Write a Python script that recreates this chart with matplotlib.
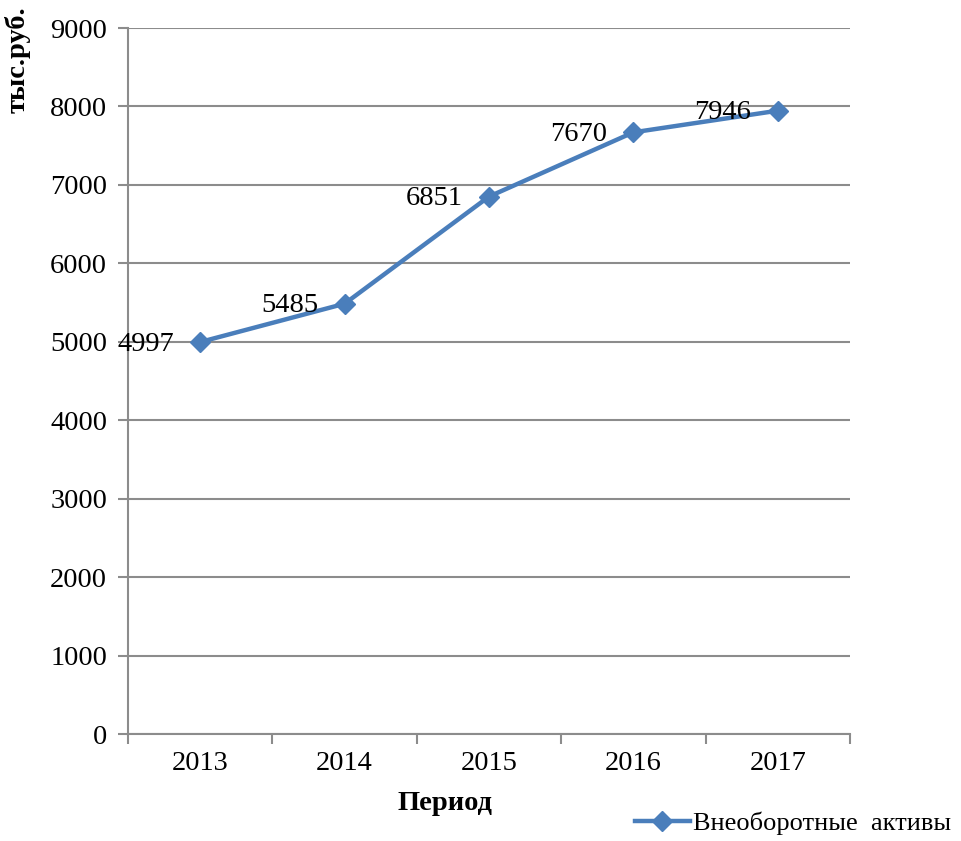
import matplotlib
matplotlib.use("Agg")
import matplotlib.pyplot as plt
from matplotlib.ticker import FixedLocator

years = ["2013", "2014", "2015", "2016", "2017"]
values = [4997, 5485, 6851, 7670, 7946]
series_name = "Внеоборотные  активы"
y_ticks = [0, 1000, 2000, 3000, 4000, 5000, 6000, 7000, 8000, 9000]

plt.rcParams['font.family'] = ['Liberation Serif', 'DejaVu Serif']
FS = 20.5

fig = plt.figure(figsize=(9.61, 8.41), dpi=100)
ax = fig.add_axes([128/961, 107/841, 722/961, 706/841])

grid_c = '#8c8c8c'
line_c = '#4a7ebb'

x = list(range(len(years)))
ax.plot(x, values, color=line_c, lw=3.2, marker='D', markersize=10,
        markerfacecolor=line_c, markeredgecolor=line_c, label=series_name, zorder=3)

for xi, v in zip(x, values):
    ax.annotate(str(v), (xi, v), xytext=(-19, -1.5), textcoords='offset points',
                ha='right', va='center', fontsize=FS, color='black', zorder=4)

ax.set_xlim(-0.5, len(years) - 0.5)
ax.set_ylim(0, 9000)
ax.set_yticks(y_ticks)
ax.set_yticklabels([str(t) for t in y_ticks], fontsize=FS)
ax.set_xticks(x)
ax.set_xticklabels(years, fontsize=FS)
ax.tick_params(axis='x', which='major', length=0, pad=12)
ax.xaxis.set_minor_locator(FixedLocator([i - 0.5 for i in range(len(years) + 1)]))
ax.tick_params(axis='x', which='minor', length=7, width=1.5, color=grid_c, direction='out')
ax.tick_params(axis='y', which='major', length=7, width=1.5, color=grid_c, direction='out', pad=8)

ax.grid(axis='y', color=grid_c, lw=1.5, zorder=0)
ax.set_axisbelow(True)
for s in ['top', 'right']:
    ax.spines[s].set_visible(False)
for s in ['left', 'bottom']:
    ax.spines[s].set_color(grid_c)
    ax.spines[s].set_linewidth(1.5)

fig.text(445/961, 1 - 803/841, "Период", fontsize=FS, fontweight='bold', ha='center', va='center')
fig.text(18/961, 1 - 60/841, "тыс.руб.", fontsize=FS, fontweight='bold', rotation=90, ha='center', va='center')

leg = fig.legend(loc='lower right', bbox_to_anchor=(1.006, -0.012), frameon=False, fontsize=19,
                 handlelength=2.1, handletextpad=0.1, borderaxespad=0.2)

fig.savefig("out.png", dpi=100)
